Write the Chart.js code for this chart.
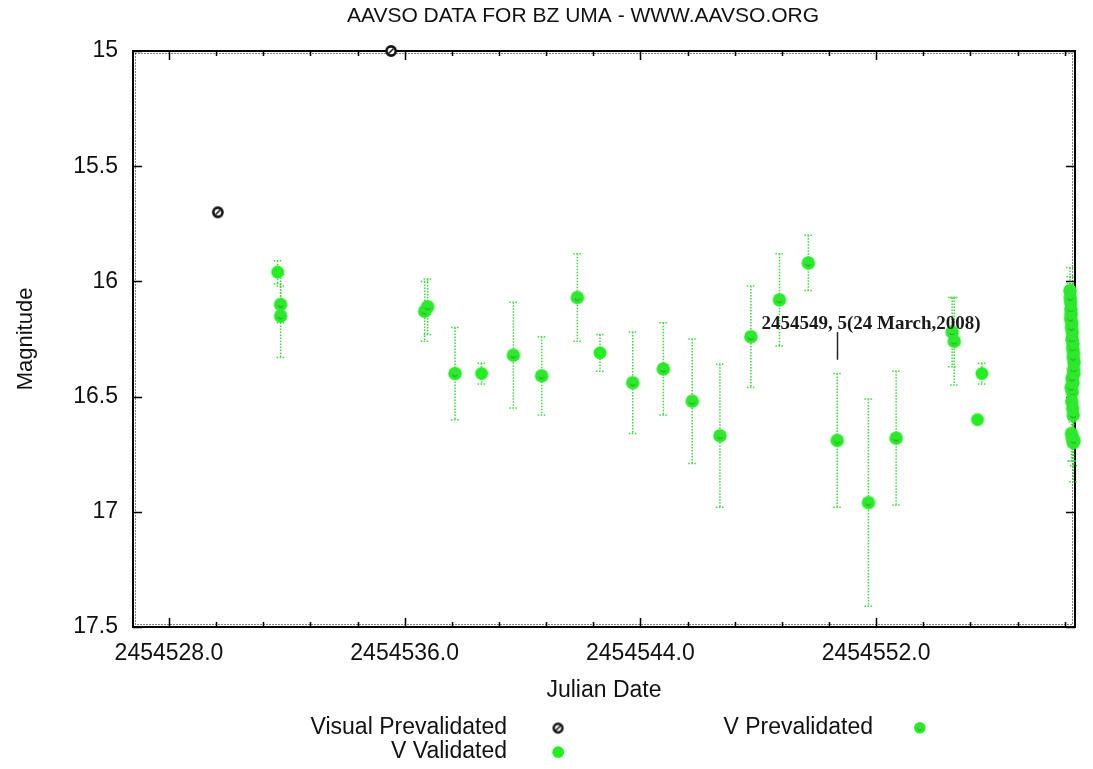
<!DOCTYPE html>
<html>
<head>
<meta charset="utf-8">
<title>AAVSO BZ UMa light curve</title>
<script src="https://cdn.jsdelivr.net/npm/chart.js@4.4.1/dist/chart.umd.min.js"></script>
<style>
  html, body { margin: 0; padding: 0; background: #fff; }
  #wrap { width: 1093px; height: 769px; position: relative; }
</style>
</head>
<body>
<div id="wrap"><canvas id="lightCurve"></canvas></div>
<script>
// Visual Prevalidated
const visualJD = [2454529.66, 2454535.54];
const visualMag = [15.70, 15.00];

// V Validated
const vValJD = [2454531.69, 2454538.61, 2454542.63, 2454555.59, 2454555.44];
const vValMag = [15.96, 16.40, 16.31, 16.40, 16.60];
const vValErr = [0.05, 0.045, 0.08, 0.045, 0];

// V Prevalidated
const vPreJD = [2454531.79, 2454531.79, 2454536.68, 2454536.78, 2454537.71, 2454539.69,
  2454540.65, 2454541.86, 2454543.74, 2454544.78, 2454545.76, 2454546.70, 2454547.75,
  2454548.72, 2454549.70, 2454550.68, 2454551.74, 2454552.68, 2454554.58, 2454554.65];
const vPreMag = [16.10, 16.15, 16.13, 16.11, 16.40, 16.32, 16.41, 16.07, 16.44, 16.38,
  16.52, 16.67, 16.24, 16.08, 15.92, 16.69, 16.96, 16.68, 16.22, 16.26];
const vPreErr = [0.08, 0.18, 0.13, 0.12, 0.20, 0.23, 0.17, 0.19, 0.22, 0.20,
  0.27, 0.31, 0.22, 0.20, 0.12, 0.29, 0.45, 0.29, 0.15, 0.19];

// the dense run of V Prevalidated points at the right edge
const runJD = [2454558.58, 2454558.60, 2454558.62, 2454558.64, 2454558.66, 2454558.68, 2454558.70,
  2454558.72, 2454558.71, 2454558.59, 2454558.61, 2454558.63, 2454558.65, 2454558.67, 2454558.69,
  2454558.70, 2454558.68, 2454558.66, 2454558.64, 2454558.62, 2454558.67, 2454558.69, 2454558.60,
  2454558.65, 2454558.63, 2454558.66, 2454558.69, 2454558.71];
const runMag = [16.04, 16.09, 16.14, 16.18, 16.22, 16.27, 16.31, 16.35, 16.40, 16.07, 16.12, 16.20,
  16.25, 16.29, 16.33, 16.38, 16.44, 16.48, 16.52, 16.46, 16.55, 16.58, 16.16, 16.42, 16.66, 16.68,
  16.70, 16.69];
const runErr = [0.10, 0.08, 0.07, 0.06, 0.08, 0.07, 0.06, 0.08, 0.07, 0.09, 0.06, 0.07, 0.08, 0.06,
  0.07, 0.08, 0.06, 0.07, 0.08, 0.07, 0.06, 0.07, 0.08, 0.06, 0.12, 0.10, 0.17, 0.11];

// axes
const xTickValues = [2454528.0, 2454529.6, 2454531.2, 2454532.8, 2454534.4, 2454536.0, 2454537.6,
  2454539.2, 2454540.8, 2454542.4, 2454544.0, 2454545.6, 2454547.2, 2454548.8, 2454550.4,
  2454552.0, 2454553.6, 2454555.2, 2454556.8, 2454558.4];
const xLabelValues = [2454528.0, 2454536.0, 2454544.0, 2454552.0];
const yTickValues = [15, 15.5, 16, 16.5, 17, 17.5];

// annotation
const noteText = "2454549, 5(24 March,2008)";
const noteJD = 2454548.11;
const noteMag = 16.185;
const arrowJD = 2454550.68;
const arrowMag = [16.22, 16.34];

const GREEN = '#2de82d';
const SANS = "'Liberation Sans', Arial, sans-serif";

function makeMarker(kind, scale) {
  const s = scale || 1;
  const c = document.createElement('canvas');
  c.width = Math.round(16 * s); c.height = Math.round(16 * s);
  const g = c.getContext('2d');
  g.scale(s, s);
  if (kind === 'visual') {
    g.beginPath(); g.arc(8, 8, 4.6, 0, Math.PI * 2);
    g.fillStyle = '#fff'; g.fill();
    g.lineWidth = 2.6; g.strokeStyle = '#111'; g.stroke();
    g.beginPath(); g.moveTo(5.5, 10.5); g.lineTo(10.5, 5.5);
    g.lineWidth = 1.6; g.stroke();
  } else if (kind === 'pre') {
    g.beginPath(); g.arc(8, 8, 6.8, 0, Math.PI * 2);
    g.fillStyle = GREEN; g.fill();
    g.beginPath(); g.arc(8, 8, 2.8, 0.4, 2.8);
    g.strokeStyle = 'rgba(20,140,20,0.7)'; g.lineWidth = 1; g.stroke();
  } else {
    g.beginPath(); g.arc(8, 8, 6.5, 0, Math.PI * 2);
    g.fillStyle = '#22ee22'; g.fill();
  }
  return c;
}

function toPoints(xs, ys) {
  return xs.map((x, i) => ({ x: x, y: ys[i] }));
}

const visualData = toPoints(visualJD, visualMag);
const vValData = toPoints(vValJD, vValMag);
const vPreData = toPoints(vPreJD.concat(runJD), vPreMag.concat(runMag));
const errors = [[], vValErr, vPreErr.concat(runErr)];

// frame with inward ticks, like the gnuplot border
const framePlugin = {
  id: 'frame',
  beforeDatasetsDraw(chart) {
    const { ctx, chartArea: a, scales } = chart;
    ctx.save();
    ctx.strokeStyle = '#000';
    ctx.lineWidth = 2;
    ctx.strokeRect(a.left, a.top, a.right - a.left, a.bottom - a.top);
    ctx.lineWidth = 1;
    ctx.setLineDash([1, 2]);
    ctx.strokeRect(a.left + 2.5, a.top + 2.5, a.right - a.left - 5, a.bottom - a.top - 5);
    ctx.setLineDash([]);
    ctx.lineWidth = 1.5;
    ctx.beginPath();
    xTickValues.forEach(v => {
      const x = Math.round(scales.x.getPixelForValue(v)) + 0.5;
      const len = xLabelValues.some(m => Math.abs(m - v) < 1e-6) ? 9 : 5;
      ctx.moveTo(x, a.bottom); ctx.lineTo(x, a.bottom - len);
      ctx.moveTo(x, a.top); ctx.lineTo(x, a.top + len);
    });
    yTickValues.forEach(v => {
      const y = Math.round(scales.y.getPixelForValue(v)) + 0.5;
      ctx.moveTo(a.left, y); ctx.lineTo(a.left + 9, y);
      ctx.moveTo(a.right, y); ctx.lineTo(a.right - 9, y);
    });
    ctx.stroke();

    // dotted error bars
    ctx.strokeStyle = '#3cd83c';
    ctx.lineWidth = 1.5;
    ctx.setLineDash([1.5, 1.5]);
    chart.data.datasets.forEach((ds, di) => {
      const err = errors[di];
      ds.data.forEach((p, i) => {
        const e = err[i];
        if (!e) return;
        const x = scales.x.getPixelForValue(p.x);
        const y1 = scales.y.getPixelForValue(p.y - e);
        const y2 = scales.y.getPixelForValue(p.y + e);
        ctx.beginPath();
        ctx.moveTo(x, y1); ctx.lineTo(x, y2);
        ctx.moveTo(x - 4, y1); ctx.lineTo(x + 4, y1);
        ctx.moveTo(x - 4, y2); ctx.lineTo(x + 4, y2);
        ctx.stroke();
      });
    });
    ctx.restore();
  },
  afterDatasetsDraw(chart) {
    const { ctx, scales } = chart;
    ctx.save();
    ctx.fillStyle = '#1a1a1a';
    ctx.font = "bold 19px 'Liberation Serif', 'Times New Roman', serif";
    ctx.textBaseline = 'middle';
    ctx.textAlign = 'left';
    ctx.fillText(noteText, scales.x.getPixelForValue(noteJD), scales.y.getPixelForValue(noteMag));
    const ax = Math.round(scales.x.getPixelForValue(arrowJD)) + 0.5;
    ctx.strokeStyle = '#222';
    ctx.lineWidth = 1.5;
    ctx.beginPath();
    ctx.moveTo(ax, scales.y.getPixelForValue(arrowMag[0]));
    ctx.lineTo(ax, scales.y.getPixelForValue(arrowMag[1]));
    ctx.stroke();
    ctx.restore();
  },
  afterDraw(chart) {
    const ctx = chart.ctx;
    ctx.save();
    ctx.fillStyle = '#111';
    ctx.font = '21px ' + SANS;
    ctx.textAlign = 'center';
    ctx.textBaseline = 'middle';
    ctx.fillText('AAVSO DATA FOR BZ UMA - WWW.AAVSO.ORG', 583, 16);

    // legend
    ctx.font = '23px ' + SANS;
    ctx.textAlign = 'right';
    const rows = [
      { text: chart.data.datasets[0].label, tx: 507, sx: 558, y: 728, m: makeMarker('visual', 0.95) },
      { text: chart.data.datasets[1].label, tx: 507, sx: 558, y: 752, m: makeMarker('val', 0.9) },
      { text: chart.data.datasets[2].label, tx: 873, sx: 920, y: 728, m: makeMarker('pre', 0.85) }
    ];
    rows.forEach(r => {
      ctx.fillText(r.text, r.tx, r.y);
      ctx.drawImage(r.m, r.sx - r.m.width / 2, r.y - r.m.height / 2);
    });
    ctx.restore();
  }
};

Chart.defaults.font.family = SANS;
Chart.defaults.color = '#111';

const ctx = document.getElementById('lightCurve').getContext('2d');

const lightChart = new Chart(ctx, {
  type: 'scatter',
  data: {
    datasets: [
      {
        label: 'Visual Prevalidated',
        data: visualData,
        pointStyle: makeMarker('visual'),
        clip: false
      },
      {
        label: 'V Validated',
        data: vValData,
        pointStyle: makeMarker('val'),
        clip: false
      },
      {
        label: 'V Prevalidated',
        data: vPreData,
        pointStyle: makeMarker('pre'),
        clip: false
      }
    ]
  },
  options: {
    responsive: true,
    maintainAspectRatio: false,
    animation: false,
    layout: {
      padding: { top: 51, right: 18, left: 0, bottom: 0 }
    },
    scales: {
      x: {
        type: 'linear',
        min: 2454526.78,
        max: 2454558.75,
        grid: { display: false, drawTicks: false },
        border: { display: false },
        afterBuildTicks: function (scale) {
          scale.ticks = xTickValues.map(v => ({ value: v }));
        },
        afterFit: function (scale) {
          scale.height = 142;
        },
        ticks: {
          autoSkip: false,
          maxRotation: 0,
          padding: 13,
          font: { size: 23 },
          color: '#111',
          callback: function (value) {
            return xLabelValues.some(m => Math.abs(m - value) < 1e-6) ? value.toFixed(1) : '';
          }
        },
        title: {
          display: true,
          text: 'Julian Date',
          font: { size: 23 },
          color: '#111',
          padding: { top: 0, bottom: 65 }
        }
      },
      y: {
        type: 'linear',
        reverse: true,
        min: 15,
        max: 17.5,
        grid: { display: false, drawTicks: false },
        border: { display: false },
        afterBuildTicks: function (scale) {
          scale.ticks = yTickValues.map(v => ({ value: v }));
        },
        afterFit: function (scale) {
          scale.width = 133;
        },
        ticks: {
          padding: 15,
          font: { size: 23 },
          color: '#111',
          callback: function (value) {
            return String(value);
          }
        },
        title: {
          display: true,
          text: 'Magnitude',
          font: { size: 22 },
          color: '#111',
          padding: { top: 13, bottom: 0 }
        }
      }
    },
    plugins: {
      legend: { display: false },
      title: { display: false },
      tooltip: { enabled: false }
    }
  },
  plugins: [framePlugin]
});
</script>
</body>
</html>
